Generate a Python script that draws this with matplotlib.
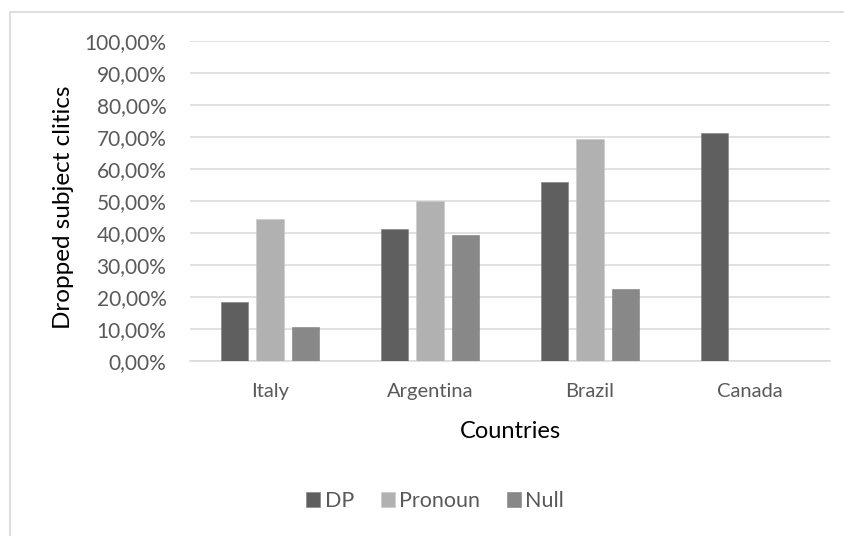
import numpy as np
import matplotlib.pyplot as plt
from matplotlib.patches import Rectangle
from matplotlib.ticker import FuncFormatter

# data (percent)
countries = ['Italy', 'Argentina', 'Brazil', 'Canada']
dp = [18.4, 41.2, 55.8, 71.4]
pronoun = [44.5, 50.0, 69.3, np.nan]
null = [10.5, 39.4, 22.5, np.nan]

series = [('DP', dp, '#5f5f5f'), ('Pronoun', pronoun, '#b1b1b1'), ('Null', null, '#888888')]

plt.rcParams['font.family'] = ['Lato', 'DejaVu Sans']
txt = '#595959'

fig = plt.figure(figsize=(8.45, 5.36), dpi=100)
ax = fig.add_axes([190 / 845, 1 - 361 / 536, 640 / 845, 320 / 536])

# chart frame (only left and top edges are inside the picture)
fig.patches.append(Rectangle((10 / 845, -0.1), 1.2, 1.1 - 12 / 536, transform=fig.transFigure,
                             fill=False, edgecolor='#d9d9d9', linewidth=1.2))

x = np.arange(len(countries))
width = 0.17
step = 0.22
for i, (name, vals, col) in enumerate(series):
    ax.bar(x + (i - 1) * step, vals, width, color=col, edgecolor='#7f7f7f' if i != 1 else '#c8c8c8',
           linewidth=0.4, label=name, zorder=3)

ax.set_xlim(-0.5, len(countries) - 0.5)
ax.set_ylim(0, 100)
ax.set_yticks(np.arange(0, 101, 10))
ax.yaxis.set_major_formatter(FuncFormatter(lambda v, p: ('%.2f%%' % v).replace('.', ',')))
ax.set_xticks(x)
ax.set_xticklabels(countries)
ax.grid(axis='y', color='#d9d9d9', linewidth=1.1, zorder=0)
for s in ['top', 'right', 'left']:
    ax.spines[s].set_visible(False)
ax.spines['bottom'].set_color('#d9d9d9')
ax.spines['bottom'].set_linewidth(1.1)
ax.tick_params(axis='y', length=0, labelsize=15, labelcolor=txt, pad=17)
ax.tick_params(axis='x', length=0, labelsize=14.5, labelcolor=txt, pad=16)

ax.set_ylabel('Dropped subject clitics', fontsize=17.5, color='black')
ax.yaxis.set_label_coords(-0.182, 0.48)
ax.set_xlabel('Countries', fontsize=17, color='black')
ax.xaxis.set_label_coords(0.5, -0.1875)

ax.legend(loc='center', bbox_to_anchor=(0.383, -0.4375), ncol=3, frameon=False,
          fontsize=15.5, labelcolor=txt, handlelength=0.65, handleheight=0.65,
          handletextpad=0.2, columnspacing=1.25)

fig.savefig('out.png', dpi=100)
